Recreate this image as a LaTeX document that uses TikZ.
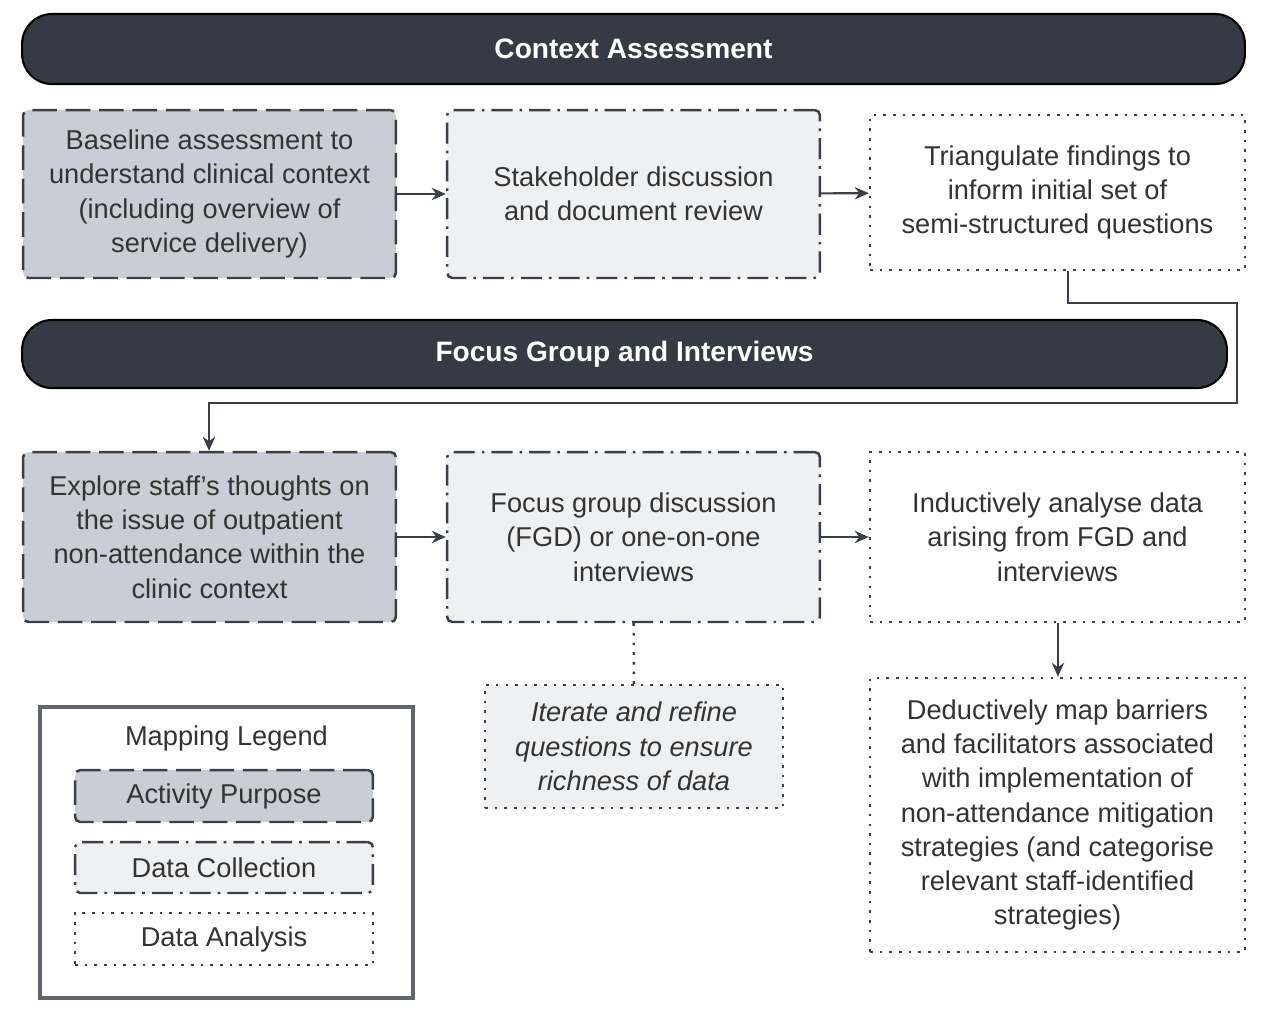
\documentclass[tikz,border=0pt]{standalone}
\usepackage{fontspec}
\setmainfont{Liberation Sans}
\usetikzlibrary{arrows.meta}
\usetikzlibrary{calc}
\definecolor{barfill}{HTML}{353B45}
\definecolor{purpfill}{HTML}{C9CED6}
\definecolor{collfill}{HTML}{EEF0F2}
\definecolor{edgegray}{HTML}{3A3F47}
\tikzset{
  bar/.style={draw=black, line width=1.2pt, fill=barfill, rounded corners=17pt, text=white, font=\bfseries\fontsize{16}{19}\selectfont},
  purpose/.style={draw=edgegray, line width=1.4pt, fill=purpfill, rounded corners=3pt, dash pattern=on 14pt off 5pt, align=center, text=black!80, font=\fontsize{15.5}{19.5}\selectfont},
  collect/.style={draw=edgegray, line width=1.4pt, fill=collfill, rounded corners=3pt, dash pattern=on 12pt off 4pt on 1.5pt off 4pt, align=center, text=black!80, font=\fontsize{15.5}{19.5}\selectfont},
  analyse/.style={draw=edgegray, line width=1.4pt, fill=white, dash pattern=on 1.5pt off 4pt, align=center, text=black!80, font=\fontsize{15.5}{19.5}\selectfont},
  flow/.style={draw=edgegray, line width=1.2pt, -{Stealth[length=8pt,width=7pt]}}
}
\begin{document}
\begin{tikzpicture}[x=0.02cm, y=-0.02cm]
  \useasboundingbox (0,0) rectangle (1280,1009);

  % context assessment row
  \node[bar, minimum width=24.46cm, minimum height=1.4cm] (ctx) at (633.5,49) {Context Assessment};
  \node[purpose, minimum width=7.46cm, minimum height=3.36cm] (base) at (209.5,194) {Baseline assessment to\\understand clinical context\\(including overview of\\service delivery)};
  \node[collect, minimum width=7.46cm, minimum height=3.36cm] (stake) at (633.5,194) {Stakeholder discussion\\and document review};
  \node[analyse, minimum width=7.5cm, minimum height=3.1cm] (tri) at (1057.5,192.5) {Triangulate findings to\\inform initial set of\\semi-structured questions};

  % focus group row
  \node[bar, minimum width=24.1cm, minimum height=1.36cm] (fgi) at (624.5,354) {Focus Group and Interviews};
  \node[purpose, minimum width=7.46cm, minimum height=3.4cm] (explore) at (209.5,537) {Explore staff's thoughts on\\the issue of outpatient\\non-attendance within the\\clinic context};
  \node[collect, minimum width=7.46cm, minimum height=3.4cm] (focus) at (633.5,537) {Focus group discussion\\(FGD) or one-on-one\\interviews};
  \node[analyse, minimum width=7.5cm, minimum height=3.4cm] (induct) at (1057.5,537) {Inductively analyse data\\arising from FGD and\\interviews};
  \node[analyse, fill=collfill, minimum width=5.96cm, minimum height=2.46cm, font=\itshape\fontsize{15.5}{19.5}\selectfont] (iter) at (634,746.5) {Iterate and refine\\questions to ensure\\richness of data};
  \node[analyse, minimum width=7.5cm, minimum height=5.48cm] (deduct) at (1057.5,815) {Deductively map barriers\\and facilitators associated\\with implementation of\\non-attendance mitigation\\strategies (and categorise\\relevant staff-identified\\strategies)};

  % legend
  \node[draw=edgegray!80, line width=1.8pt, minimum width=7.46cm, minimum height=5.82cm] (legend) at (226.5,852.5) {};
  \node[text=black!80, font=\fontsize{15.5}{19.5}\selectfont] (legtitle) at (226.5,738) {Mapping Legend};
  \node[purpose, minimum width=5.96cm, minimum height=1.04cm] (legpurp) at (224,796) {Activity Purpose};
  \node[collect, minimum width=5.96cm, minimum height=1.02cm] (legcoll) at (224,867.5) {Data Collection};
  \node[analyse, minimum width=5.96cm, minimum height=1.04cm] (legana) at (224,939) {Data Analysis};

  % connectors
  \draw[flow] (tri.south -| 1068,0) |- (1237,303) |- (209,403) -- (explore.north -| 209,0);
  \draw[flow] (base) -- (stake);
  \draw[flow] (stake) -- (tri);
  \draw[flow] (explore) -- (focus);
  \draw[flow] (focus) -- (induct);
  \draw[flow] (induct.south -| 1058,0) -- (deduct.north -| 1058,0);
  \draw[draw=edgegray, line width=1.4pt, dash pattern=on 1.5pt off 4pt] (focus) -- (iter);
\end{tikzpicture}
\end{document}
